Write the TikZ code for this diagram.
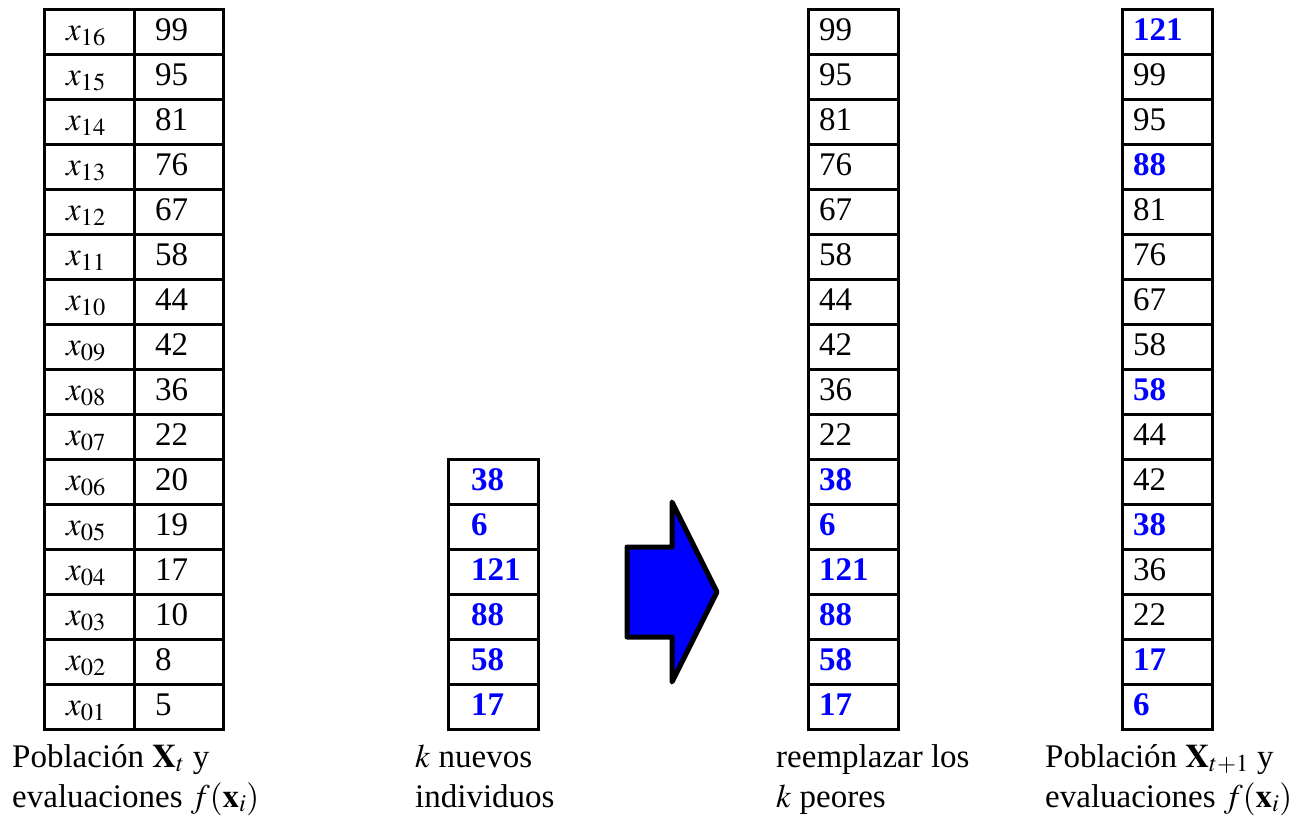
\documentclass[tikz,border=0pt]{standalone}
\usepackage{mathptmx}
\usepackage{fontspec}
\setmainfont{Liberation Serif}
\definecolor{nblue}{RGB}{0,0,255}
\tikzset{
  cellbox/.style={draw=black, line width=3.2pt, minimum width=#1, minimum height=45pt, inner sep=0pt, anchor=north west},
  txt/.style={inner sep=0pt, font=\fontsize{33}{38}\selectfont},
  num/.style={txt, anchor=base west},
  bnum/.style={txt, anchor=base west, text=nblue, font=\fontsize{33}{38}\selectfont\bfseries},
  lab/.style={txt, anchor=base},
  captext/.style={inner sep=0pt, anchor=base west, font=\fontsize{33}{40}\selectfont},
  bigarrow/.style={draw=black, fill=nblue, line width=5pt, line join=round}
}
\begin{document}
\begin{tikzpicture}[x=1pt,y=-1pt]
\useasboundingbox (0,0) rectangle (1310,821);
% Table 1
\foreach \v [count=\i] in {99,95,81,76,67,58,44,42,36,22,20,19,17,10,8,5}{
  \pgfmathtruncatemacro{\k}{17-\i}
  \pgfmathsetmacro{\rt}{8+45*(\i-1)}
  \node[cellbox=90pt] (ta\i) at (43,\rt) {};
  \node[cellbox=89pt] (tb\i) at (133,\rt) {};
  \ifnum\k<10 \def\kk{0\k}\else\def\kk{\k}\fi
  \node[lab] (la\i) at (86,\rt+32.5) {$x_{\kk}$};
  \node[num] (na\i) at (155,\rt+32.5) {\v};
}
% Table 2
\foreach \v [count=\i] in {38,6,121,88,58,17}{
  \pgfmathsetmacro{\rt}{458+45*(\i-1)}
  \node[cellbox=90pt] (tc\i) at (447,\rt) {};
  \node[bnum] (nc\i) at (471,\rt+32.5) {\v};
}
% Table 3
\foreach \v/\b [count=\i] in {99/0,95/0,81/0,76/0,67/0,58/0,44/0,42/0,36/0,22/0,38/1,6/1,121/1,88/1,58/1,17/1}{
  \pgfmathsetmacro{\rt}{8+45*(\i-1)}
  \node[cellbox=90pt] (td\i) at (807,\rt) {};
  \ifnum\b=1
    \node[bnum] (nd\i) at (819,\rt+32.5) {\v};
  \else
    \node[num] (nd\i) at (819,\rt+32.5) {\v};
  \fi
}
% Table 4
\foreach \v/\b [count=\i] in {121/1,99/0,95/0,88/1,81/0,76/0,67/0,58/0,58/1,44/0,42/0,38/1,36/0,22/0,17/1,6/1}{
  \pgfmathsetmacro{\rt}{8+45*(\i-1)}
  \node[cellbox=90pt] (te\i) at (1121,\rt) {};
  \ifnum\b=1
    \node[bnum] (ne\i) at (1133,\rt+32.5) {\v};
  \else
    \node[num] (ne\i) at (1133,\rt+32.5) {\v};
  \fi
}
% Arrow
\draw[bigarrow] (627,547) -- (672,547) -- (672,502) -- (717,592) -- (672,682) -- (672,637) -- (627,637) -- cycle;
% Captions
\node[captext] (c1a) at (12,767) {Población $\mathbf{X}_t$ y};
\node[captext] (c1b) at (12,807) {evaluaciones $f(\mathbf{x}_i)$};
\node[captext] (c2a) at (415,767) {$k$ nuevos};
\node[captext] (c2b) at (415,807) {individuos};
\node[captext] (c3a) at (776,767) {reemplazar los};
\node[captext] (c3b) at (776,807) {$k$ peores};
\node[captext] (c4a) at (1045,767) {Población $\mathbf{X}_{t+1}$ y};
\node[captext] (c4b) at (1045,807) {evaluaciones $f(\mathbf{x}_i)$};
\end{tikzpicture}
\end{document}
